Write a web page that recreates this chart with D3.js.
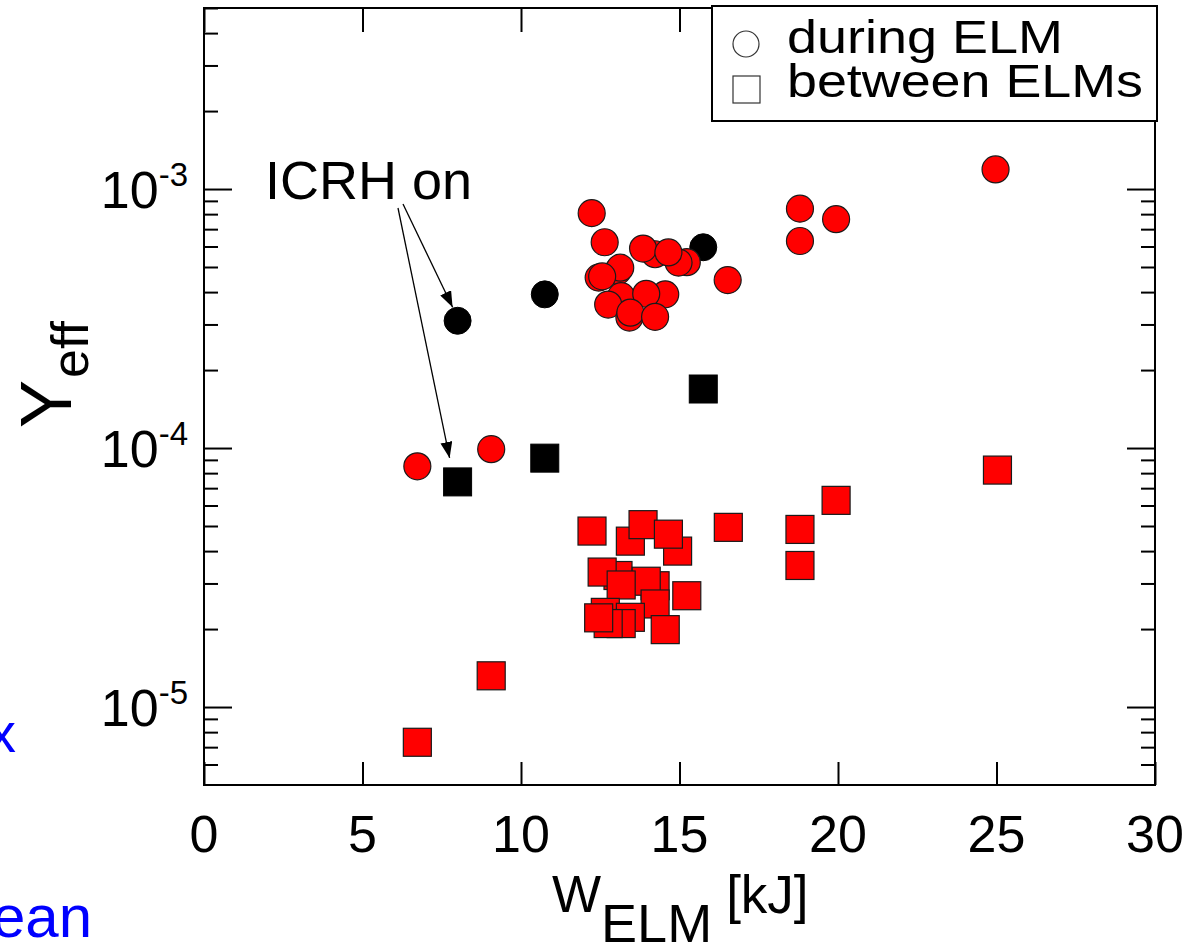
<!DOCTYPE html>
<html>
<head>
<meta charset="utf-8">
<script src="https://cdn.jsdelivr.net/npm/d3@7"></script>
<style>
  body { margin: 0; background: #fff; }
  svg { display: block; }
  text { font-family: Arial, "Liberation Sans", Helvetica, sans-serif; fill: #000; }
</style>
</head>
<body>
<svg id="chart" width="1187" height="945"></svg>
<script>
// ELM energy W_ELM [kJ] vs effective yield Y_eff
// ICRH-heated discharges (black)
const icrhDuringW  = [8.0, 10.75, 15.75];
const icrhDuringY  = [3.1e-4, 3.92e-4, 5.96e-4];
const icrhBetweenW = [8.0, 10.75, 15.75];
const icrhBetweenY = [7.4e-5, 9.14e-5, 1.69e-4];

// remaining discharges (red), listed back to front
const duringW = [6.73, 9.06, 12.23, 12.64, 14.23, 13.85, 15.23, 14.97, 14.65,
                 13.05, 13.13, 12.45, 12.56, 13.16, 12.75, 14.55, 13.95,
                 13.42, 13.45, 14.23, 16.52, 18.8, 18.8, 19.94, 24.97];
const duringY = [8.5e-5, 9.9e-5, 8.07e-4, 6.23e-4, 5.6e-4, 5.89e-4, 5.22e-4, 5.2e-4, 5.69e-4,
                 4.82e-4, 4.97e-4, 4.55e-4, 4.6e-4, 3.86e-4, 3.58e-4, 3.92e-4, 3.94e-4,
                 3.19e-4, 3.33e-4, 3.21e-4, 4.45e-4, 8.4e-4, 6.3e-4, 7.65e-4, 1.19e-3];

const betweenW = [6.73, 9.06, 25.03, 19.94, 18.8, 18.8, 16.54, 15.23, 12.24,
                  13.45, 13.85, 14.94, 14.65, 13.06, 12.56, 14.23, 13.95, 13.16,
                  14.23, 14.55, 12.66, 13.45, 13.16, 12.75, 12.45];
const betweenY = [7.31e-6, 1.32e-5, 8.22e-5, 6.28e-5, 4.85e-5, 3.52e-5, 4.94e-5, 2.69e-5, 4.78e-5,
                  4.37e-5, 5.06e-5, 4.0e-5, 4.65e-5, 3.22e-5, 3.32e-5, 2.94e-5, 3.06e-5, 2.96e-5,
                  2.5e-5, 1.99e-5, 2.32e-5, 2.22e-5, 2.1e-5, 2.1e-5, 2.21e-5];

const xTicks = [0, 5, 10, 15, 20, 25, 30];
const yDecades = [1e-5, 1e-4, 1e-3];
const yExponents = ["-5", "-4", "-3"];
const legendLabels = ["during ELM", "between ELMs"];

const svg = d3.select("#chart");
const plotL = 204, plotR = 1155, plotT = 8, plotB = 785;

const x = d3.scaleLinear().domain([0, 30]).range([plotL, plotR]);
const y = d3.scaleLog().domain([5e-6, 5e-3]).range([plotB, plotT]);

// y minor ticks (2..9 per decade)
const yMinor = [];
[1e-6, 1e-5, 1e-4, 1e-3].forEach(d => {
  for (let k = 2; k <= 9; k++) {
    const v = k * d;
    if (v >= 5e-6 && v <= 5e-3 + 1e-12) yMinor.push(v);
  }
});

const axisG = svg.append("g");
const noDomain = g => g.select(".domain").remove();
// left axis ticks (inward)
axisG.append("g").attr("transform", `translate(${plotL},0)`)
  .call(d3.axisRight(y).tickValues(yMinor).tickSize(14).tickFormat("")).call(noDomain);
axisG.append("g").attr("transform", `translate(${plotL},0)`)
  .call(d3.axisRight(y).tickValues(yDecades).tickSize(28).tickFormat("")).call(noDomain);
// right axis ticks (inward)
axisG.append("g").attr("transform", `translate(${plotR},0)`)
  .call(d3.axisLeft(y).tickValues(yMinor).tickSize(14).tickFormat("")).call(noDomain);
axisG.append("g").attr("transform", `translate(${plotR},0)`)
  .call(d3.axisLeft(y).tickValues(yDecades).tickSize(28).tickFormat("")).call(noDomain);
// bottom and top ticks (inward)
axisG.append("g").attr("transform", `translate(0,${plotB})`)
  .call(d3.axisTop(x).tickValues(xTicks).tickSize(23).tickFormat("")).call(noDomain);
axisG.append("g").attr("transform", `translate(0,${plotT})`)
  .call(d3.axisBottom(x).tickValues(xTicks).tickSize(24).tickFormat("")).call(noDomain);
axisG.selectAll("line").attr("stroke", "#000").attr("stroke-width", 2);

// frame
svg.append("rect")
  .attr("x", plotL).attr("y", plotT)
  .attr("width", plotR - plotL).attr("height", plotB - plotT)
  .attr("fill", "none").attr("stroke", "#000").attr("stroke-width", 2);

// x tick labels
svg.append("g").selectAll("text")
  .data(xTicks).join("text")
  .attr("x", d => x(d)).attr("y", 852)
  .attr("text-anchor", "middle")
  .attr("font-size", 52)
  .text(d => d);

// y tick labels 10^n
const yl = svg.append("g").selectAll("text")
  .data(yDecades).join("text")
  .attr("x", 188).attr("y", d => y(d) + 19)
  .attr("text-anchor", "end")
  .attr("font-size", 52);
yl.append("tspan").text("10");
yl.append("tspan").attr("font-size", 33).attr("dy", -22).text((d, i) => yExponents[i]);

// axis titles
const xt = svg.append("text").attr("x", 552).attr("y", 912).attr("font-size", 52);
xt.append("tspan").text("W");
xt.append("tspan").attr("dy", 30).attr("font-size", 54).text("ELM");
xt.append("tspan").attr("dy", -29).attr("dx", 14).attr("font-size", 53).text("[kJ]");

const yt = svg.append("text")
  .attr("transform", "translate(71,428) rotate(-90)")
  .attr("font-size", 72);
yt.append("tspan").text("Y");
yt.append("tspan").attr("font-size", 52).attr("dy", 17).attr("dx", 2).text("eff");

// markers
const R = 13.5, S = 28;
const circles = svg.append("g");
const squares = svg.append("g");

squares.selectAll("rect.red")
  .data(d3.zip(betweenW, betweenY)).join("rect")
  .attr("class", "red")
  .attr("x", d => x(d[0]) - S / 2).attr("y", d => y(d[1]) - S / 2)
  .attr("width", S).attr("height", S)
  .attr("fill", "#ff0000").attr("stroke", "#1a1a1a").attr("stroke-width", 1.2);
squares.selectAll("rect.icrh")
  .data(d3.zip(icrhBetweenW, icrhBetweenY)).join("rect")
  .attr("class", "icrh")
  .attr("x", d => x(d[0]) - S / 2).attr("y", d => y(d[1]) - S / 2)
  .attr("width", S).attr("height", S)
  .attr("fill", "#000").attr("stroke", "#000");

circles.selectAll("circle.icrh")
  .data(d3.zip(icrhDuringW, icrhDuringY)).join("circle")
  .attr("class", "icrh")
  .attr("cx", d => x(d[0])).attr("cy", d => y(d[1])).attr("r", R)
  .attr("fill", "#000").attr("stroke", "#000");
circles.selectAll("circle.red")
  .data(d3.zip(duringW, duringY)).join("circle")
  .attr("class", "red")
  .attr("cx", d => x(d[0])).attr("cy", d => y(d[1])).attr("r", R)
  .attr("fill", "#ff0000").attr("stroke", "#1a1a1a").attr("stroke-width", 1.2);

// ICRH annotation
svg.append("defs").append("marker")
  .attr("id", "arrow").attr("viewBox", "0 0 16 12")
  .attr("refX", 16).attr("refY", 6)
  .attr("markerWidth", 16).attr("markerHeight", 12)
  .attr("markerUnits", "userSpaceOnUse")
  .attr("orient", "auto")
  .append("path").attr("d", "M0,0 L16,6 L0,12 Z").attr("fill", "#000");

svg.append("text").attr("x", 265).attr("y", 199).attr("font-size", 54).text("ICRH on");

const tail1 = [403, 204], tail2 = [398, 208];
const tip1 = [x(icrhDuringW[0]) - 5, y(icrhDuringY[0]) - R];
const tip2 = [x(icrhBetweenW[0]) - 8, y(icrhBetweenY[0]) - S / 2 - 10];
[[tail1, tip1], [tail2, tip2]].forEach(([a, b]) => {
  svg.append("line")
    .attr("x1", a[0]).attr("y1", a[1]).attr("x2", b[0]).attr("y2", b[1])
    .attr("stroke", "#000").attr("stroke-width", 1.3)
    .attr("marker-end", "url(#arrow)");
});

// legend
const lg = svg.append("g");
lg.append("rect").attr("x", 712).attr("y", 6).attr("width", 445).attr("height", 115)
  .attr("fill", "#fff").attr("stroke", "#000").attr("stroke-width", 2);
lg.append("circle").attr("cx", 746).attr("cy", 44).attr("r", 13)
  .attr("fill", "#fff").attr("stroke", "#333").attr("stroke-width", 1.2);
lg.append("rect").attr("x", 733).attr("y", 76).attr("width", 27).attr("height", 27)
  .attr("fill", "#fff").attr("stroke", "#333").attr("stroke-width", 1.2);
const legendWidths = [276, 356];
lg.selectAll("text").data(legendLabels).join("text")
  .attr("x", 787).attr("y", (d, i) => 53 + i * 44)
  .attr("font-size", 46)
  .attr("textLength", (d, i) => legendWidths[i])
  .attr("lengthAdjust", "spacingAndGlyphs")
  .text(d => d);

// text spilling in from the neighbouring panel
svg.append("text").attr("x", 16).attr("y", 752).attr("text-anchor", "end")
  .attr("font-size", 56).style("fill", "#0000ff").text("x");
svg.append("text").attr("x", 92).attr("y", 937).attr("text-anchor", "end")
  .attr("font-size", 60).style("fill", "#0000ff").text("mean");
</script>
</body>
</html>
